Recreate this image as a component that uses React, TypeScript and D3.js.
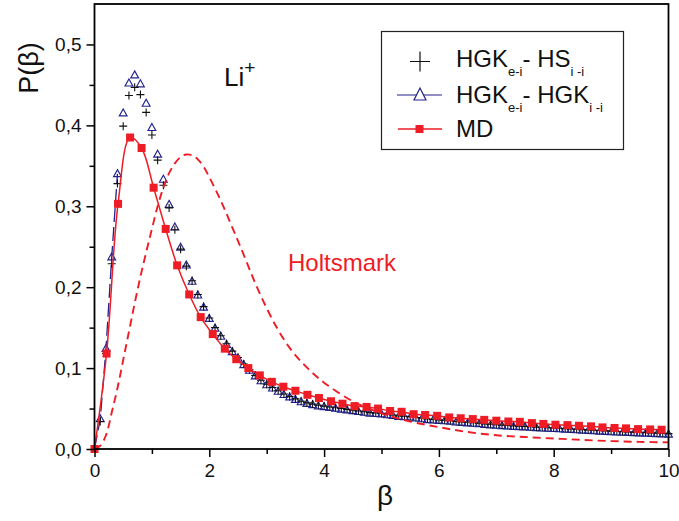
import React, { useEffect, useRef } from "react";
import * as d3 from "d3";

// beta grid shared by the two HGK models
const betaGrid = [
  0.1, 0.2, 0.3, 0.4, 0.5, 0.6, 0.7, 0.8, 0.9, 1.0,
  1.1, 1.2, 1.3, 1.4, 1.5, 1.6, 1.7, 1.8, 1.9, 2.0,
  2.1, 2.2, 2.3, 2.4, 2.5, 2.6, 2.7, 2.8, 2.9, 3.0,
  3.1, 3.2, 3.3, 3.4, 3.5, 3.6, 3.7, 3.8, 3.9, 4.0,
  4.1, 4.2, 4.3, 4.4, 4.5, 4.6, 4.7, 4.8, 4.9, 5.0,
  5.1, 5.2, 5.3, 5.4, 5.5, 5.6, 5.7, 5.8, 5.9, 6.0,
  6.1, 6.2, 6.3, 6.4, 6.5, 6.6, 6.7, 6.8, 6.9, 7.0,
  7.1, 7.2, 7.3, 7.4, 7.5, 7.6, 7.7, 7.8, 7.9, 8.0,
  8.1, 8.2, 8.3, 8.4, 8.5, 8.6, 8.7, 8.8, 8.9, 9.0,
  9.1, 9.2, 9.3, 9.4, 9.5, 9.6, 9.7, 9.8, 9.9, 10.0,
];

// HGK e-i / HGK i-i (triangles)
const hgkHgk = [
  0.037, 0.124, 0.237, 0.340, 0.415, 0.452, 0.462, 0.451, 0.427, 0.397,
  0.364, 0.333, 0.302, 0.274, 0.249, 0.227, 0.207, 0.190, 0.175, 0.161,
  0.149, 0.139, 0.129, 0.120, 0.112, 0.104, 0.097, 0.090, 0.084, 0.079,
  0.075, 0.071, 0.067, 0.064, 0.061, 0.058, 0.056, 0.0545, 0.053, 0.052,
  0.051, 0.050, 0.049, 0.048, 0.047, 0.046, 0.045, 0.044, 0.0435, 0.043,
  0.042, 0.041, 0.040, 0.0395, 0.039, 0.038, 0.037, 0.036, 0.0355, 0.035,
  0.0345, 0.034, 0.033, 0.0325, 0.032, 0.0315, 0.031, 0.030, 0.0295, 0.029,
  0.0285, 0.028, 0.0276, 0.0272, 0.027, 0.0265, 0.026, 0.0256, 0.0253, 0.025,
  0.0246, 0.0242, 0.0238, 0.0234, 0.023, 0.0226, 0.0222, 0.0218, 0.0214, 0.021,
  0.0207, 0.0204, 0.0201, 0.0198, 0.0195, 0.0192, 0.0189, 0.0186, 0.0183, 0.018,
];

// HGK e-i / HS i-i (crosses)
const hgkHs = [
  0.034, 0.118, 0.229, 0.328, 0.399, 0.437, 0.447, 0.438, 0.416, 0.388,
  0.357, 0.326, 0.298, 0.271, 0.247, 0.226, 0.208, 0.191, 0.176, 0.162,
  0.150, 0.140, 0.130, 0.121, 0.113, 0.105, 0.098, 0.091, 0.085, 0.080,
  0.076, 0.072, 0.068, 0.065, 0.062, 0.059, 0.057, 0.0555, 0.054, 0.053,
  0.052, 0.051, 0.050, 0.049, 0.048, 0.047, 0.046, 0.045, 0.0445, 0.044,
  0.043, 0.042, 0.041, 0.0405, 0.040, 0.039, 0.038, 0.037, 0.0365, 0.036,
  0.0355, 0.035, 0.034, 0.0335, 0.033, 0.0325, 0.032, 0.031, 0.0305, 0.030,
  0.0295, 0.029, 0.0286, 0.0282, 0.028, 0.0275, 0.027, 0.0266, 0.0263, 0.026,
  0.0256, 0.0252, 0.0248, 0.0244, 0.024, 0.0236, 0.0232, 0.0228, 0.0224, 0.022,
  0.0217, 0.0214, 0.0211, 0.0208, 0.0205, 0.0202, 0.0199, 0.0196, 0.0193, 0.019,
];

// low-beta part of the HGK-HGK curve (blue dashed)
const hgkLineBeta = [0, 0.1, 0.2, 0.3, 0.4];
const hgkLineP = [0, 0.037, 0.124, 0.237, 0.34];

// MD simulation (red squares)
const mdBeta = [
  0, 0.21, 0.41, 0.62, 0.82, 1.03, 1.24, 1.44, 1.65, 1.85,
  2.06, 2.27, 2.47, 2.68, 2.88, 3.09, 3.29, 3.5, 3.71, 3.91,
  4.12, 4.32, 4.53, 4.74, 4.94, 5.15, 5.35, 5.56, 5.76, 5.97,
  6.18, 6.38, 6.59, 6.79, 7.0, 7.21, 7.41, 7.62, 7.82, 8.03,
  8.24, 8.44, 8.65, 8.85, 9.06, 9.26, 9.47, 9.68, 9.88,
];
const mdP = [
  0.0, 0.118, 0.303, 0.385, 0.372, 0.323, 0.272, 0.227, 0.191, 0.163,
  0.142, 0.124, 0.111, 0.1, 0.091, 0.083, 0.077, 0.072, 0.067, 0.063,
  0.059, 0.056, 0.053, 0.052, 0.05, 0.047, 0.046, 0.043, 0.042, 0.041,
  0.039, 0.038, 0.037, 0.036, 0.035, 0.034, 0.0336, 0.032, 0.031, 0.03,
  0.0295, 0.0287, 0.028, 0.0267, 0.026, 0.0255, 0.0246, 0.0242, 0.0238,
];

// Holtsmark distribution (red dashed)
const holtsBeta = [
  0, 0.1, 0.2, 0.3, 0.4, 0.5, 0.6, 0.7, 0.8, 0.9, 1.0, 1.1, 1.2, 1.3, 1.4,
  1.5, 1.6, 1.7, 1.8, 1.9, 2.0, 2.2, 2.4, 2.6, 2.8, 3.0, 3.2, 3.4, 3.6, 3.8,
  4.0, 4.5, 5.0, 5.5, 6.0, 6.5, 7.0, 7.5, 8.0, 8.5, 9.0, 9.5, 10,
];
const holtsP = [
  0, 0.004, 0.017, 0.045, 0.075, 0.11, 0.145, 0.18, 0.213, 0.243, 0.272, 0.3,
  0.323, 0.341, 0.353, 0.361, 0.364, 0.363, 0.358, 0.349, 0.336, 0.307, 0.274,
  0.24, 0.205, 0.174, 0.147, 0.125, 0.108, 0.094, 0.082, 0.059, 0.044, 0.034,
  0.027, 0.021, 0.017, 0.0148, 0.013, 0.0112, 0.0098, 0.0088, 0.0082,
];

const xTicks = [0, 2, 4, 6, 8, 10];
const xMinor = [1, 3, 5, 7, 9];
const yTicks = [0, 0.1, 0.2, 0.3, 0.4, 0.5];
const yMinor = [0.05, 0.15, 0.25, 0.35, 0.45];

const RED = "#ee1c25";
const NAVY = "#23238e";
const FONT = "Arial, 'Liberation Sans', sans-serif";

function drawChart(el: SVGSVGElement) {
  const svg = d3.select(el);
  svg.selectAll("*").remove();

  const x = d3.scaleLinear().domain([0, 10]).range([94.5, 668.5]);
  const y = d3.scaleLinear().domain([0, 0.55]).range([449, 4]);

  const line = d3
    .line<[number, number]>()
    .x((d) => x(d[0]))
    .y((d) => y(d[1]));

  const tri = betaGrid.map((b, i) => [b, hgkHgk[i]] as [number, number]);
  const crs = betaGrid.map((b, i) => [b, hgkHs[i]] as [number, number]);
  const md = mdBeta.map((b, i) => [b, mdP[i]] as [number, number]);
  const holts = holtsBeta.map((b, i) => [b, holtsP[i]] as [number, number]);
  const hgkLow = hgkLineBeta.map((b, i) => [b, hgkLineP[i]] as [number, number]);

  const plot = svg.append("g");

  // blue dashed rise
  plot
    .append("path")
    .attr("d", line(hgkLow))
    .attr("fill", "none")
    .attr("stroke", NAVY)
    .attr("stroke-width", 1.3)
    .attr("stroke-dasharray", "14,5");

  // triangles
  plot
    .append("g")
    .selectAll("path")
    .data(tri)
    .enter()
    .append("path")
    .attr("transform", (d) => `translate(${x(d[0])},${y(d[1])})`)
    .attr("d", "M0,-4.3L3.9,2.7L-3.9,2.7Z")
    .attr("fill", "none")
    .attr("stroke", NAVY)
    .attr("stroke-width", 1.15);

  // crosses
  plot
    .append("g")
    .selectAll("path")
    .data(crs)
    .enter()
    .append("path")
    .attr("transform", (d) => `translate(${x(d[0])},${y(d[1])})`)
    .attr("d", "M-4,0H4M0,-4V4")
    .attr("fill", "none")
    .attr("stroke", "#111")
    .attr("stroke-width", 1.1);

  // Holtsmark
  plot
    .append("path")
    .attr("d", line.curve(d3.curveCatmullRom)(holts))
    .attr("fill", "none")
    .attr("stroke", RED)
    .attr("stroke-width", 1.9)
    .attr("stroke-dasharray", "8,5");

  // MD line + squares
  plot
    .append("path")
    .attr("d", line.curve(d3.curveCatmullRom)(md))
    .attr("fill", "none")
    .attr("stroke", RED)
    .attr("stroke-width", 1.5);

  plot
    .append("g")
    .selectAll("rect")
    .data(md)
    .enter()
    .append("rect")
    .attr("x", (d) => x(d[0]) - 4)
    .attr("y", (d) => y(d[1]) - 4)
    .attr("width", 8)
    .attr("height", 8)
    .attr("fill", RED);

  // frame
  svg
    .append("rect")
    .attr("x", x(0))
    .attr("y", y(0.55))
    .attr("width", x(10) - x(0))
    .attr("height", y(0) - y(0.55))
    .attr("fill", "none")
    .attr("stroke", "#000")
    .attr("stroke-width", 1.8);

  // axes
  const fmtY = (d: number) => d3.format(".1f")(d).replace(".", ",");
  const styleAxis = (g: any) => {
    g.select(".domain").remove();
    g.selectAll("line").attr("stroke", "#000").attr("stroke-width", 1.5);
    g.selectAll("text")
      .attr("font-family", FONT)
      .attr("font-size", 19)
      .attr("fill", "#111");
  };

  svg
    .append("g")
    .attr("transform", `translate(0,${y(0)})`)
    .call(d3.axisBottom(x).tickValues(xTicks).tickSize(8).tickPadding(7).tickFormat(d3.format("d")))
    .call(styleAxis);
  svg
    .append("g")
    .attr("transform", `translate(0,${y(0)})`)
    .call(d3.axisBottom(x).tickValues(xMinor).tickSize(5).tickFormat(() => ""))
    .call(styleAxis);
  svg
    .append("g")
    .attr("transform", `translate(${x(0)},0)`)
    .call(d3.axisLeft(y).tickValues(yTicks).tickSize(8).tickPadding(5).tickFormat(fmtY as any))
    .call(styleAxis);
  svg
    .append("g")
    .attr("transform", `translate(${x(0)},0)`)
    .call(d3.axisLeft(y).tickValues(yMinor).tickSize(5).tickFormat(() => ""))
    .call(styleAxis);

  // axis titles
  svg
    .append("text")
    .attr("transform", "translate(38,68) rotate(-90)")
    .attr("text-anchor", "middle")
    .attr("font-family", FONT)
    .attr("font-size", 27)
    .attr("fill", "#111")
    .text("P(β)");
  svg
    .append("text")
    .attr("x", 385)
    .attr("y", 505)
    .attr("text-anchor", "middle")
    .attr("font-family", FONT)
    .attr("font-size", 28)
    .attr("fill", "#111")
    .text("β");

  // annotations
  const li = svg
    .append("text")
    .attr("x", 224)
    .attr("y", 86)
    .attr("font-family", FONT)
    .attr("font-size", 26)
    .attr("fill", "#111");
  li.append("tspan").text("Li");
  li.append("tspan").attr("dy", -12).attr("font-size", 19).text("+");

  svg
    .append("text")
    .attr("x", 288)
    .attr("y", 271)
    .attr("font-family", FONT)
    .attr("font-size", 24)
    .attr("fill", RED)
    .text("Holtsmark");

  // legend
  const lg = svg.append("g");
  lg.append("rect")
    .attr("x", 381.5)
    .attr("y", 31.5)
    .attr("width", 242)
    .attr("height", 118)
    .attr("fill", "#fff")
    .attr("stroke", "#222")
    .attr("stroke-width", 1.2);

  const rows = [
    { base: 66.5, main1: "HGK", sub1: "e-i", main2: "- HS", sub2: "i -i" },
    { base: 103, main1: "HGK", sub1: "e-i", main2: "- HGK", sub2: "i -i" },
    { base: 136.5, main1: "MD", sub1: "", main2: "", sub2: "" },
  ];
  rows.forEach((r) => {
    const t = lg
      .append("text")
      .attr("x", 456)
      .attr("y", r.base)
      .attr("font-family", FONT)
      .attr("font-size", 24)
      .attr("fill", "#111");
    t.append("tspan").text(r.main1);
    if (r.sub1) {
      t.append("tspan").attr("dy", 9).attr("font-size", 13).text(r.sub1);
      t.append("tspan").attr("dy", -9).text(r.main2);
      t.append("tspan").attr("dy", 9).attr("font-size", 13).text(r.sub2);
    }
  });

  // legend symbols
  lg.append("path")
    .attr("d", "M410,61.5H430M420,51.5V71.5")
    .attr("stroke", "#111")
    .attr("stroke-width", 1.2);
  lg.append("line")
    .attr("x1", 397)
    .attr("x2", 442)
    .attr("y1", 95)
    .attr("y2", 95)
    .attr("stroke", NAVY)
    .attr("stroke-width", 1.2);
  lg.append("path")
    .attr("d", "M420,88L426,100H414Z")
    .attr("fill", "#fff")
    .attr("stroke", NAVY)
    .attr("stroke-width", 1.2);
  lg.append("line")
    .attr("x1", 398)
    .attr("x2", 442)
    .attr("y1", 129)
    .attr("y2", 129)
    .attr("stroke", RED)
    .attr("stroke-width", 1.4);
  lg.append("rect")
    .attr("x", 415.5)
    .attr("y", 125)
    .attr("width", 8)
    .attr("height", 8)
    .attr("fill", RED);
}

export default function App() {
  const ref = useRef<SVGSVGElement>(null);

  useEffect(() => {
    if (ref.current) drawChart(ref.current);
  }, []);

  return (
    <svg
      ref={ref}
      width={679}
      height={521}
      style={{ position: "absolute", left: 0, top: 0, background: "#fff" }}
    />
  );
}
